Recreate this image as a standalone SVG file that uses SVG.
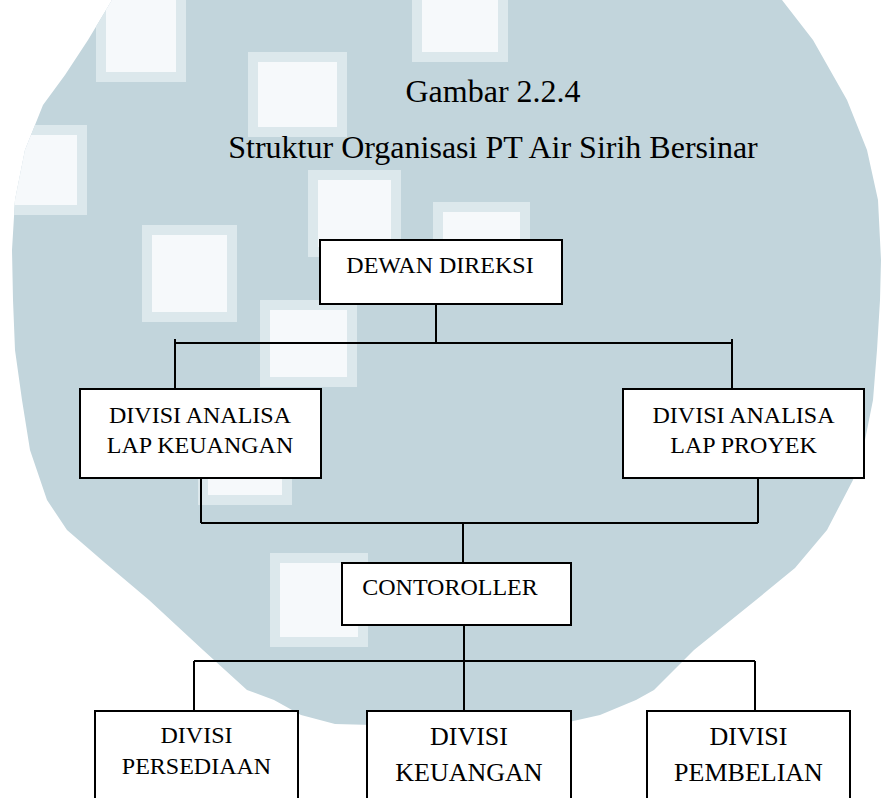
<svg xmlns="http://www.w3.org/2000/svg" width="885" height="798" viewBox="0 0 885 798">
<style>
.bg{fill:#c2d5dc}
.rim{fill:#dce8ec}
.core{fill:#f6f9fb}
.box{fill:#ffffff;stroke:#000;stroke-width:2}
.ln{fill:none;stroke:#000;stroke-width:2}
text{font-family:"Liberation Serif","Times New Roman",serif;fill:#000;text-anchor:middle}
.t24{font-size:24px}
.t26{font-size:26px}
.title{font-size:32px}
</style>
<defs>
<clipPath id="blob">
<polygon id="blobshape" points="112,0 782,0 813,40 847,100 867,150 878,200 881,260 880,300 877,350 873,400 865,440 853,480 827,530 795,568 756,600 694,650 654,690 636,700 600,715 560,724 447,727 335,724 301,715 274,700 247,690 203,650 149,600 104,562 67,530 47,500 30,450 22,400 15,350 13,300 12,250 15,200 25,150 43,105 65,75 88,40"/>
</clipPath>
</defs>
<rect width="885" height="798" fill="#ffffff"/>
<g id="watermark">
<polygon class="bg" points="112,0 782,0 813,40 847,100 867,150 878,200 881,260 880,300 877,350 873,400 865,440 853,480 827,530 795,568 756,600 694,650 654,690 636,700 600,715 560,724 447,727 335,724 301,715 274,700 247,690 203,650 149,600 104,562 67,530 47,500 30,450 22,400 15,350 13,300 12,250 15,200 25,150 43,105 65,75 88,40"/>
<g clip-path="url(#blob)">
<rect class="rim" x="-10" y="125" width="97" height="90"/><rect class="core" x="-10" y="135" width="87" height="70"/>
<rect class="rim" x="96" y="-10" width="90" height="92"/><rect class="core" x="106" y="-10" width="70" height="82"/>
<rect class="rim" x="248" y="52" width="99" height="85"/><rect class="core" x="258" y="62" width="79" height="65"/>
<rect class="rim" x="412" y="-10" width="96" height="72"/><rect class="core" x="422" y="-10" width="76" height="62"/>
<rect class="rim" x="308" y="170" width="93" height="87"/><rect class="core" x="318" y="180" width="73" height="67"/>
<rect class="rim" x="433" y="202" width="97" height="88"/><rect class="core" x="443" y="212" width="77" height="68"/>
<rect class="rim" x="142" y="225" width="95" height="97"/><rect class="core" x="152" y="235" width="75" height="77"/>
<rect class="rim" x="260" y="300" width="97" height="87"/><rect class="core" x="270" y="310" width="77" height="67"/>
<rect class="rim" x="198" y="415" width="94" height="90"/><rect class="core" x="208" y="425" width="74" height="70"/>
<rect class="rim" x="270" y="553" width="98" height="94"/><rect class="core" x="280" y="563" width="78" height="74"/>
</g>
</g>
<g id="title">
<text class="title" x="493" y="102">Gambar 2.2.4</text>
<text class="title" x="493" y="158">Struktur Organisasi PT Air Sirih Bersinar</text>
</g>
<g id="connectors">
<path class="ln" d="M436,304 V343 M175,343 H732 M175,339 V388 M732,339 V388"/>
<path class="ln" d="M201,478 V523 M758,478 V523 M201,523 H758 M463,523 V563"/>
<path class="ln" d="M464,626 V710 M194,661 H755 M194,661 V710 M755,661 V710"/>
</g>
<g id="dewan-direksi">
<rect class="box" x="320" y="240" width="242" height="64"/>
<text class="t24" x="440" y="273">DEWAN DIREKSI</text>
</g>
<g id="divisi-analisa-lap-keuangan">
<rect class="box" x="80" y="389" width="241" height="89"/>
<text class="t24" x="200" y="423">DIVISI ANALISA</text>
<text class="t24" x="200" y="453">LAP KEUANGAN</text>
</g>
<g id="divisi-analisa-lap-proyek">
<rect class="box" x="623" y="389" width="241" height="89"/>
<text class="t24" x="743.5" y="423">DIVISI ANALISA</text>
<text class="t24" x="743.5" y="453">LAP PROYEK</text>
</g>
<g id="contoroller">
<rect class="box" x="342" y="563" width="229" height="62"/>
<text class="t24" x="450" y="595">CONTOROLLER</text>
</g>
<g id="divisi-persediaan">
<rect class="box" x="95" y="711" width="203" height="110"/>
<text class="t24" x="196.5" y="743">DIVISI</text>
<text class="t24" x="196.5" y="774">PERSEDIAAN</text>
</g>
<g id="divisi-keuangan">
<rect class="box" x="367" y="711" width="204" height="110"/>
<text class="t26" x="469" y="745">DIVISI</text>
<text class="t26" x="469" y="781">KEUANGAN</text>
</g>
<g id="divisi-pembelian">
<rect class="box" x="647" y="711" width="203" height="110"/>
<text class="t26" x="748.5" y="745">DIVISI</text>
<text class="t26" x="748.5" y="781">PEMBELIAN</text>
</g>
</svg>
